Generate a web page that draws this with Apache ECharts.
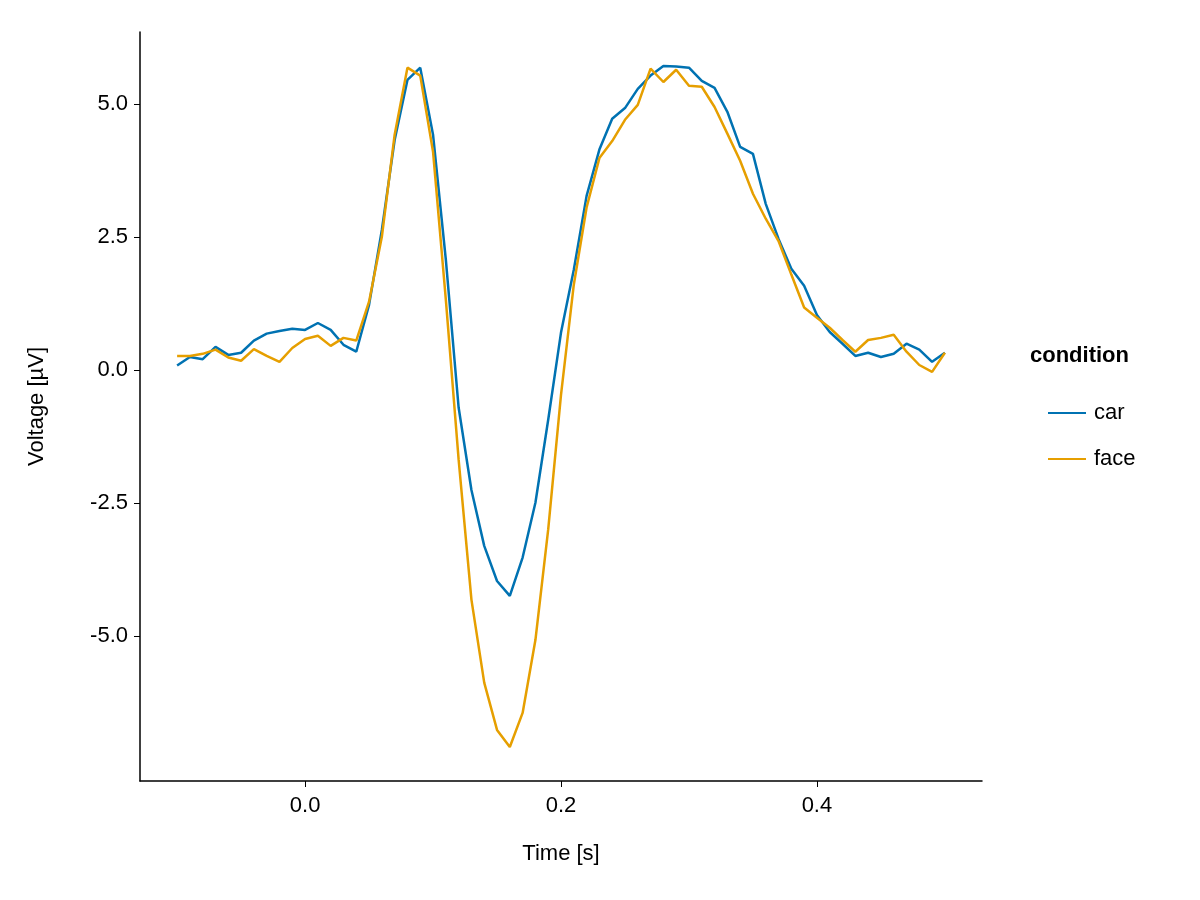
<!DOCTYPE html>
<html><head><meta charset="utf-8">
<script src="https://cdn.jsdelivr.net/npm/echarts@6/dist/echarts.min.js"></script>
<style>html,body{margin:0;padding:0;background:#fff}#c{width:1200px;height:900px}</style>
</head><body><div id="c"></div>
<script>
const times = [];
for (let i = -10; i <= 50; i++) times.push(+(i/100).toFixed(2));
const car = [0.08,0.24,0.2,0.43,0.28,0.32,0.55,0.68,0.73,0.77,0.75,0.88,0.75,0.47,0.34,1.22,2.63,4.32,5.45,5.68,4.42,2.07,-0.71,-2.26,-3.31,-3.97,-4.25,-3.53,-2.5,-0.94,0.7,1.88,3.27,4.14,4.72,4.92,5.28,5.53,5.71,5.7,5.68,5.43,5.3,4.85,4.19,4.06,3.12,2.46,1.9,1.58,1.03,0.71,0.49,0.26,0.32,0.24,0.3,0.49,0.38,0.15,0.32];
const face = [0.26,0.26,0.3,0.38,0.23,0.17,0.39,0.26,0.15,0.41,0.58,0.64,0.45,0.6,0.55,1.28,2.5,4.42,5.68,5.53,4.1,1.32,-1.69,-4.32,-5.88,-6.77,-7.09,-6.45,-5.08,-3.0,-0.47,1.6,3.05,3.98,4.3,4.7,4.98,5.66,5.41,5.64,5.34,5.32,4.94,4.44,3.93,3.31,2.84,2.42,1.79,1.17,0.98,0.79,0.56,0.34,0.56,0.6,0.66,0.34,0.09,-0.04,0.32];
const xTicks = [0, 0.2, 0.4];
const yTicks = [-5, -2.5, 0, 2.5, 5];
const font = 'Liberation Sans, Arial, sans-serif';
const chart = echarts.init(document.getElementById('c'));
chart.setOption({
  animation:false,
  legend:{left:1043, top:397, orient:'vertical', itemWidth:38, itemHeight:2, itemGap:24,
    textStyle:{fontSize:22, fontFamily:font, color:'#000', padding:[0,0,0,3]}, icon:'rect', data:['car','face']},
  graphic:[{type:'text', left:1030, top:345, style:{text:'condition', font:'bold 22px '+font, fill:'#000'}}],
  grid:{left:140, right:218, top:32, bottom:119},
  xAxis:{type:'value', min:-0.129, max:0.529, name:'Time [s]', nameLocation:'middle', nameGap:62,
    nameTextStyle:{fontSize:22, fontFamily:font, color:'#000'},
    splitLine:{show:false}, axisLine:{onZero:false, lineStyle:{color:'#000', width:1.5}},
    axisTick:{customValues:xTicks, length:6, lineStyle:{color:'#000'}},
    axisLabel:{customValues:xTicks, fontSize:22, fontFamily:font, color:'#000', margin:14, formatter:v=>v.toFixed(1)}},
  yAxis:{type:'value', min:-7.73, max:6.35, name:'Voltage [µV]', nameLocation:'middle', nameGap:92,
    nameTextStyle:{fontSize:22, fontFamily:font, color:'#000'},
    splitLine:{show:false}, axisLine:{show:true, onZero:false, lineStyle:{color:'#000', width:1.5}},
    axisTick:{show:true, customValues:yTicks, length:6, lineStyle:{color:'#000'}},
    axisLabel:{customValues:yTicks, fontSize:22, fontFamily:font, color:'#000', margin:12, formatter:v=>v.toFixed(1)}},
  series:[
    {name:'car', type:'line', data:times.map((t,i)=>[t,car[i]]), showSymbol:false, lineStyle:{width:2.5, color:'#0072B2'}, itemStyle:{color:'#0072B2'}},
    {name:'face', type:'line', data:times.map((t,i)=>[t,face[i]]), showSymbol:false, lineStyle:{width:2.5, color:'#E69F00'}, itemStyle:{color:'#E69F00'}}
  ]
});
</script></body></html>
